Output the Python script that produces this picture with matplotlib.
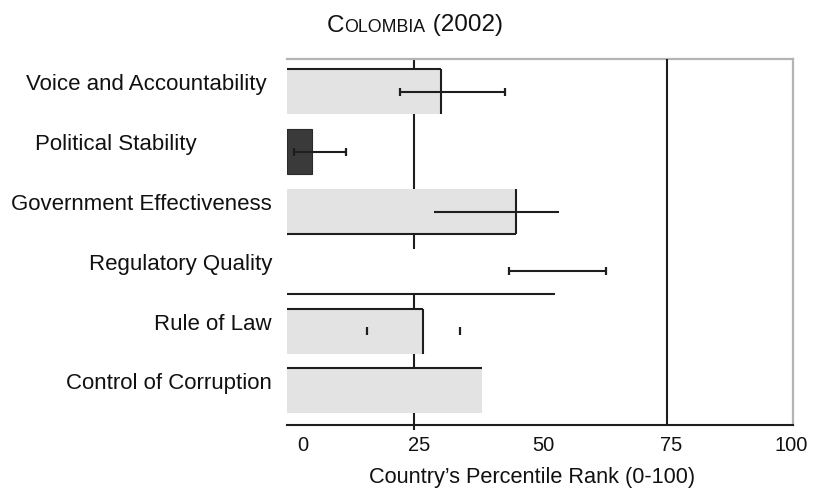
import matplotlib
matplotlib.use("Agg")
import matplotlib.pyplot as plt
import matplotlib.transforms as mtransforms
import numpy as np

plt.rcParams['font.family'] = ['Liberation Sans', 'DejaVu Sans']

# ---- data ----
categories = ["Voice and Accountability", "Political Stability",
              "Government Effectiveness", "Regulatory Quality",
              "Rule of Law", "Control of Corruption"]
ranks = [30.5, 5.0, 45.3, 53.0, 26.8, 38.6]
err_low = [22.4, 1.4, 29.1, 43.9, 15.9, np.nan]
err_high = [43.1, 11.6, 53.7, 63.0, 34.2, np.nan]
xticks = [0, 25, 50, 75, 100]
xtick_labels = ["0", "25", "50", "75", "100"]
ref_lines = [25, 75]

# ---- style ----
bar_colors = ["#e3e3e3", "#3a3a3a", "#e3e3e3", "#ffffff", "#e3e3e3", "#e3e3e3"]
bar_edges = [("top", "right"), (), ("bottom", "right"), ("bottom",), ("top", "right"), ("top",)]
err_line = [True, True, True, True, False, False]
err_caps = [True, True, False, True, True, False]
dark = "#1e1e1e"
lw = 1.5
H = 0.75

W, Hpx = 821, 490
fig = plt.figure(figsize=(W / 100, Hpx / 100), dpi=100)
ax = fig.add_axes([287 / W, 1 - 425 / Hpx, 506 / W, 366 / Hpx])

ypos = np.arange(len(categories))
ax.set_xlim(0, 100)
ax.set_ylim(5.57, -0.55)

# reference line at 25 behind the bars, 75 in front
ax.axvline(ref_lines[0], ymin=-0.012, ymax=1, color=dark, lw=lw, zorder=1, clip_on=False)
ax.axvline(ref_lines[1], color=dark, lw=lw, zorder=6)

ax.barh(ypos, ranks, height=H, color=bar_colors, edgecolor="none", zorder=2)
# dark bar outline
ax.barh(ypos[1], ranks[1], height=H, color="none", edgecolor="#2a2a2a", lw=0.8, zorder=3)

for i, (y, v) in enumerate(zip(ypos, ranks)):
    for e in bar_edges[i]:
        if e == "top":
            ax.plot([0, v], [y - H / 2, y - H / 2], color=dark, lw=lw, zorder=4, solid_capstyle="butt")
        elif e == "bottom":
            ax.plot([0, v], [y + H / 2, y + H / 2], color=dark, lw=lw, zorder=4, solid_capstyle="butt")
        elif e == "right":
            ax.plot([v, v], [y - H / 2, y + H / 2], color=dark, lw=lw, zorder=4, solid_capstyle="butt")
    lo, hi = err_low[i], err_high[i]
    if np.isnan(lo):
        continue
    if err_line[i]:
        ax.plot([lo, hi], [y, y], color=dark, lw=lw, zorder=5, solid_capstyle="butt")
    if err_caps[i]:
        ax.plot([lo, hi], [y, y], linestyle="none", marker="|", markersize=6,
                markeredgewidth=1.6, color=dark, zorder=5)

# spines
ax.spines["left"].set_visible(False)
ax.spines["top"].set_color("#b4b4b4")
ax.spines["top"].set_linewidth(1.6)
ax.spines["right"].set_color("#b4b4b4")
ax.spines["right"].set_linewidth(1.6)
ax.spines["bottom"].set_color(dark)
ax.spines["bottom"].set_linewidth(lw)
ax.spines["bottom"].set_zorder(7)

# x ticks
ax.set_xticks(xticks)
ax.set_xticklabels(xtick_labels, fontsize=14.5, color="#111111")
ax.tick_params(axis="x", length=0, pad=8)
x_off = [16, 6, 3, 5, -2]
for lab, dx in zip(ax.get_xticklabels(), x_off):
    lab.set_transform(lab.get_transform() + mtransforms.ScaledTranslation(dx / 100, 0, fig.dpi_scale_trans))

# y labels
ax.set_yticks(ypos)
ax.set_yticklabels(categories, fontsize=16, color="#111111")
ax.tick_params(axis="y", length=0, pad=10.8)
y_dx = [-5, -75, 0, 0, 0, 0]
for lab, dx in zip(ax.get_yticklabels(), y_dx):
    lab.set_transform(lab.get_transform() + mtransforms.ScaledTranslation(dx / 100, 9.5 / 100, fig.dpi_scale_trans))

ax.set_xlabel("Country\u2019s Percentile Rank (0-100)", fontsize=15.7, color="#111111", labelpad=10)
ax.xaxis.set_label_coords((532.5 - 287) / 506, -(477 - 425) / 366)
ax.xaxis.label.set_va("center")

# small-caps title
renderer = fig.canvas.get_renderer()
pieces = [("C", 17.5), ("OLOMBIA", 12.8), (" (2002)", 17.5)]
x_px = 327
base_y = 1 - 31.5 / Hpx
for txt, fs in pieces:
    t = fig.text(x_px / W, base_y, txt, fontsize=fs, va="baseline", ha="left", color="#111111")
    bb = t.get_window_extent(renderer=renderer)
    x_px += bb.width

fig.savefig("out.png", dpi=100)
